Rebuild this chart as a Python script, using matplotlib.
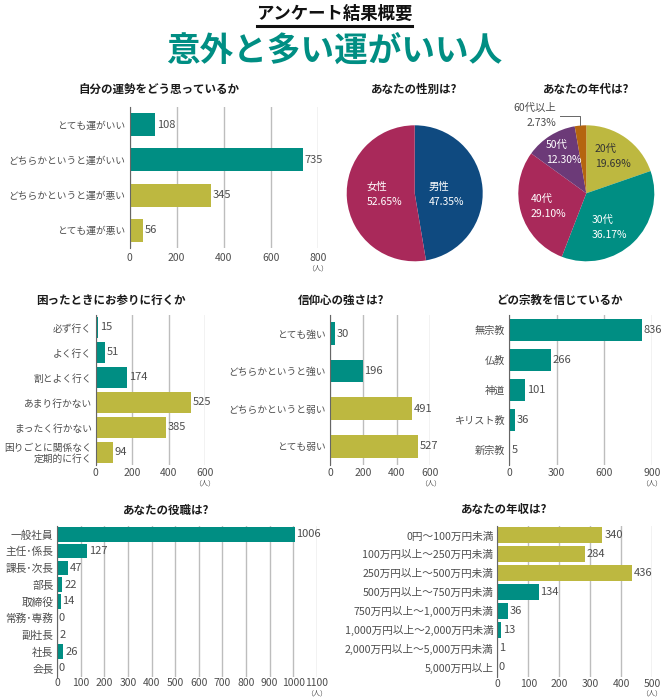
import matplotlib
matplotlib.use("Agg")
import matplotlib.pyplot as plt

plt.rcParams['font.family'] = ['Noto Sans CJK JP', 'DejaVu Sans']

W, H = 666, 700
TEAL = '#008e83'
OLIVE = '#bdb840'
CRIMSON = '#a9295a'
NAVY = '#0f4a80'
PURPLE = '#6c3a78'
ORANGE = '#b5650f'
GRAY = '#4d4d4d'

# data
luck_cats = ['とても運がいい', 'どちらかというと運がいい', 'どちらかというと運が悪い', 'とても運が悪い']
luck_vals = [108, 735, 345, 56]
luck_ticks = [0, 200, 400, 600, 800]

gender_vals = [47.35, 52.65]
gender_names = ['男性', '女性']

age_vals = [19.69, 36.17, 29.10, 12.30, 2.73]
age_names = ['20代', '30代', '40代', '50代', '60代以上']

visit_cats = ['必ず行く', 'よく行く', '割とよく行く', 'あまり行かない', 'まったく行かない', '困りごとに関係なく\n定期的に行く']
visit_vals = [15, 51, 174, 525, 385, 94]
visit_ticks = [0, 200, 400, 600]

faith_cats = ['とても強い', 'どちらかというと強い', 'どちらかというと弱い', 'とても弱い']
faith_vals = [30, 196, 491, 527]
faith_ticks = [0, 200, 400, 600]

religion_cats = ['無宗教', '仏教', '神道', 'キリスト教', '新宗教']
religion_vals = [836, 266, 101, 36, 5]
religion_ticks = [0, 300, 600, 900]

job_cats = ['一般社員', '主任･係長', '課長･次長', '部長', '取締役', '常務･専務', '副社長', '社長', '会長']
job_vals = [1006, 127, 47, 22, 14, 0, 2, 26, 0]
job_ticks = [0, 100, 200, 300, 400, 500, 600, 700, 800, 900, 1000, 1100]

income_cats = ['0円～100万円未満', '100万円以上～250万円未満', '250万円以上～500万円未満',
               '500万円以上～750万円未満', '750万円以上～1,000万円未満',
               '1,000万円以上～2,000万円未満', '2,000万円以上～5,000万円未満', '5,000万円以上']
income_vals = [340, 284, 436, 134, 36, 13, 1, 0]
income_ticks = [0, 100, 200, 300, 400, 500]

fig = plt.figure(figsize=(W / 100, H / 100), dpi=100, facecolor='white')


def px_text(x, y, s, **kw):
    kw.setdefault('va', 'center')
    kw.setdefault('ha', 'left')
    fig.text(x / W, 1 - y / H, s, **kw)


def px_axes(x0, x1, y0, y1):
    return fig.add_axes([x0 / W, 1 - y1 / H, (x1 - x0) / W, (y1 - y0) / H])


def bar_panel(box, cats, vals, ticks, colors, height, title, title_x, title_y,
              cat_size=7.0, tick_pad=2.5, unit_off=18):
    ax = px_axes(*box)
    n = len(cats)
    ax.barh(range(n), vals, height=height, color=colors, zorder=2)
    ax.set_xlim(0, ticks[-1])
    ax.set_ylim(n - 0.5, -0.5)
    ax.set_xticks(ticks)
    ax.set_yticks(range(n))
    ax.set_yticklabels(cats, fontsize=cat_size, color=GRAY, linespacing=1.05)
    ax.tick_params(axis='x', length=0, labelsize=7.5, labelcolor=GRAY, pad=tick_pad)
    ax.tick_params(axis='y', length=0, labelcolor=GRAY, pad=2.8)
    ax.xaxis.grid(True, color='#bdbdbd', linewidth=1.0, zorder=1)
    ax.set_axisbelow(True)
    for name in ['top', 'right', 'bottom']:
        ax.spines[name].set_visible(False)
    ax.spines['left'].set_color('#666666')
    ax.spines['left'].set_linewidth(0.8)
    ax.spines['left'].set_zorder(3)
    for c in ax.containers:
        ax.bar_label(c, padding=1.2, fontsize=8, color=GRAY, zorder=4)
    px_text(box[1], box[3] + unit_off, '（人）', ha='center', fontsize=5, color=GRAY)
    px_text(title_x, title_y, title, ha='center', fontsize=8.3, fontweight='bold', color='#1a1a1a')
    return ax


# header
px_text(334.5, 14, 'アンケート結果概要', ha='center', fontsize=12.5, fontweight='bold', color='#111111')
fig.add_artist(plt.Line2D([257 / W, 412 / W], [1 - 25.5 / H, 1 - 25.5 / H], color='#111111', linewidth=2.2))
px_text(334, 52, '意外と多い運がいい人', ha='center', fontsize=24.2, fontweight='bold', color=TEAL)

bar_panel((129.5, 318, 107, 248), luck_cats, luck_vals, luck_ticks,
          [TEAL, TEAL, OLIVE, OLIVE], 0.65, '自分の運勢をどう思っているか', 159, 89,
          tick_pad=3.4, unit_off=20.5)
bar_panel((95.7, 205, 315, 465), visit_cats, visit_vals, visit_ticks,
          [TEAL] * 3 + [OLIVE] * 3, 0.87, '困ったときにお参りに行くか', 111, 300)
bar_panel((330, 430.3, 315, 465), faith_cats, faith_vals, faith_ticks,
          [TEAL, TEAL, OLIVE, OLIVE], 0.6, '信仰心の強さは?', 341, 300)
bar_panel((509, 651.7, 315, 465), religion_cats, religion_vals, religion_ticks,
          [TEAL] * 5, 0.72, 'どの宗教を信じているか', 560, 300, cat_size=7.3)
bar_panel((57.3, 316.7, 526, 676.7), job_cats, job_vals, job_ticks,
          [TEAL] * 9, 0.86, 'あなたの役職は?', 166, 510, cat_size=7.7, tick_pad=0.6, unit_off=17)
bar_panel((497.3, 652, 526, 676.7), income_cats, income_vals, income_ticks,
          [OLIVE] * 3 + [TEAL] * 5, 0.85, 'あなたの年収は?', 504, 510, cat_size=7.7,
          tick_pad=1.3, unit_off=17)

# pies
ax_g = px_axes(414.7 - 68, 414.7 + 68, 193.3 - 68, 193.3 + 68)
ax_g.pie(gender_vals, colors=[NAVY, CRIMSON], startangle=90, counterclock=False, radius=1)
ax_g.set_xlim(-1, 1)
ax_g.set_ylim(-1, 1)

ax_a = px_axes(586.3 - 68, 586.3 + 68, 193.3 - 68, 193.3 + 68)
ax_a.pie(age_vals, colors=[OLIVE, TEAL, CRIMSON, PURPLE, ORANGE], startangle=90, counterclock=False, radius=1)
ax_a.set_xlim(-1, 1)
ax_a.set_ylim(-1, 1)

px_text(414, 89, 'あなたの性別は?', ha='center', fontsize=8.3, fontweight='bold', color='#1a1a1a')
px_text(586, 89, 'あなたの年代は?', ha='center', fontsize=8.3, fontweight='bold', color='#1a1a1a')


def pie_label(x, y, name, val, color, **kw):
    px_text(x, y, name, fontsize=7.5, color=color, **kw)
    px_text(x, y + 15, f'{val:.2f}%', fontsize=7.5, color=color, **kw)


pie_label(428.7, 187, gender_names[0], gender_vals[0], 'white')
pie_label(366.7, 187, gender_names[1], gender_vals[1], 'white')
pie_label(594.7, 149, age_names[0], age_vals[0], '#333333')
pie_label(592, 220, age_names[1], age_vals[1], 'white')
pie_label(531, 199, age_names[2], age_vals[2], 'white')
pie_label(545.7, 145, age_names[3], age_vals[3], 'white')
pie_label(556, 108, age_names[4], age_vals[4], GRAY, ha='right')
fig.add_artist(plt.Line2D([560 / W, 580 / W, 580 / W],
                          [1 - 115.7 / H, 1 - 115.7 / H, 1 - 125 / H], color='#666666', linewidth=0.7))

fig.savefig('out.png', dpi=100, facecolor='white')
